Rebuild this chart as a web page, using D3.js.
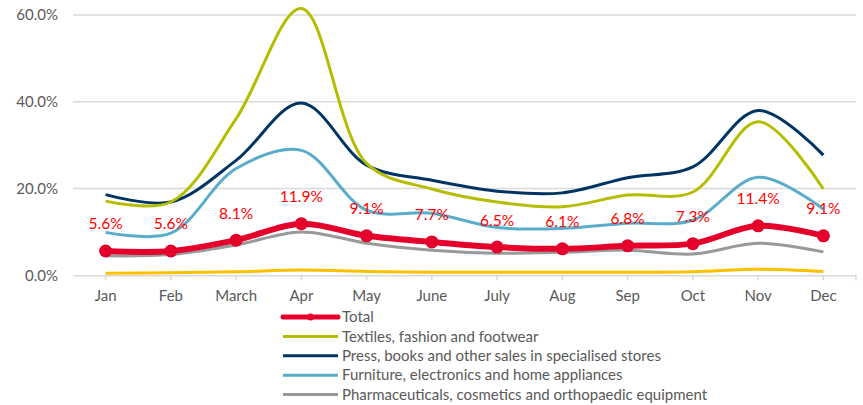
<!DOCTYPE html>
<html>
<head>
<meta charset="utf-8">
<script src="https://cdn.jsdelivr.net/npm/d3@7"></script>
<style>
  body { margin: 0; background: #fff; }
  text { font-family: Lato, "Open Sans", sans-serif; }
</style>
</head>
<body>
<div id="chart"></div>
<script>
// Chart data
var months = ["Jan", "Feb", "March", "Apr", "May", "June", "July", "Aug", "Sep", "Oct", "Nov", "Dec"];
var yTicks = [0, 20, 40, 60];

var total = [5.6, 5.6, 8.1, 11.9, 9.1, 7.7, 6.5, 6.1, 6.8, 7.3, 11.4, 9.1];
var textiles = [17.1, 16.9, 36.1, 61.5, 25.8, 19.9, 16.9, 15.8, 18.5, 19.2, 35.4, 19.9];
var press = [18.6, 16.9, 26.5, 39.7, 25.4, 21.9, 19.4, 19.0, 22.5, 25.0, 38.0, 27.7];
var furniture = [9.9, 9.7, 24.6, 28.8, 15.0, 14.3, 11.0, 10.8, 12.0, 12.7, 22.6, 15.2];
var pharma = [4.5, 4.8, 7.0, 10.0, 7.4, 5.8, 5.1, 5.3, 5.8, 4.9, 7.4, 5.4];
var food = [0.5, 0.6, 0.8, 1.2, 0.9, 0.7, 0.7, 0.7, 0.7, 0.8, 1.4, 0.9];

var legendNames = [
  "Total",
  "Textiles, fashion and footwear",
  "Press, books and other sales in specialised stores",
  "Furniture, electronics and home appliances",
  "Pharmaceuticals, cosmetics and orthopaedic equipment"
];

// SVG area
var svgWidth = 863;
var svgHeight = 405;
var margin = { top: 15, right: 7, bottom: 130, left: 73 };
var chartWidth = svgWidth - margin.left - margin.right;
var chartHeight = 275.3 - margin.top;

var svg = d3.select("#chart")
  .append("svg")
  .attr("width", svgWidth)
  .attr("height", svgHeight);

var chartGroup = svg.append("g")
  .attr("transform", `translate(${margin.left}, ${margin.top})`);

var xScale = d3.scaleBand().domain(months).range([0, chartWidth]);
var yScale = d3.scaleLinear().domain([0, 60]).range([chartHeight, 0]);
var xc = d => xScale(d) + xScale.bandwidth() / 2;

// gridlines
chartGroup.selectAll(".grid").data(yTicks.slice(1)).enter().append("line")
  .attr("x1", 0).attr("x2", chartWidth)
  .attr("y1", d => yScale(d)).attr("y2", d => yScale(d))
  .attr("stroke", "#d9d9d9").attr("stroke-width", 1.5);

// y axis labels
var leftAxis = d3.axisLeft(yScale).tickValues(yTicks).tickSize(0).tickPadding(15)
  .tickFormat(d => d.toFixed(1) + "%");
var yAxis = chartGroup.append("g").call(leftAxis);
yAxis.select(".domain").remove();
yAxis.selectAll("text").attr("fill", "#595959").style("font-size", "15px");

// x axis
var bottomAxis = d3.axisBottom(xScale).tickSize(5).tickSizeOuter(0).tickPadding(10);
var xAxis = chartGroup.append("g").attr("transform", `translate(0, ${chartHeight})`).call(bottomAxis);
xAxis.select(".domain").attr("stroke", "#d9d9d9").attr("stroke-width", 1.5);
xAxis.selectAll(".tick line").attr("stroke", "#d9d9d9").attr("stroke-width", 1.5);
xAxis.selectAll("text").attr("fill", "#595959").style("font-size", "15px");
xAxis.append("line").attr("x1", chartWidth).attr("x2", chartWidth).attr("y1", 0).attr("y2", 5)
  .attr("stroke", "#d9d9d9").attr("stroke-width", 1.5);

var line = d3.line()
  .x((d, i) => xc(months[i]))
  .y(d => yScale(d))
  .curve(d3.curveCatmullRom.alpha(0.5));

var series = [
  { values: food, color: "#ffc000", width: 3 },
  { values: pharma, color: "#999999", width: 3 },
  { values: furniture, color: "#5aaccb", width: 3 },
  { values: press, color: "#003462", width: 3 },
  { values: textiles, color: "#b5bd00", width: 3 }
];

series.forEach(function(s) {
  chartGroup.append("path").datum(s.values)
    .attr("d", line)
    .attr("fill", "none")
    .attr("stroke", s.color)
    .attr("stroke-width", s.width);
});

// Total line
var totalColor = "#e4002b";
chartGroup.append("path").datum(total)
  .attr("d", line)
  .attr("fill", "none")
  .attr("stroke", totalColor)
  .attr("stroke-width", 6);

chartGroup.selectAll(".dot").data(total).enter().append("circle")
  .attr("cx", (d, i) => xc(months[i]))
  .attr("cy", d => yScale(d))
  .attr("r", 6.5)
  .attr("fill", totalColor);

chartGroup.selectAll(".lbl").data(total).enter().append("text")
  .attr("x", (d, i) => xc(months[i]))
  .attr("y", d => yScale(d) - 27)
  .attr("dy", "0.35em")
  .attr("text-anchor", "middle")
  .attr("fill", "#ff0000")
  .style("font-size", "15.5px")
  .text(d => d.toFixed(1) + "%");

// Legend
var legendColors = [totalColor, "#b5bd00", "#003462", "#5aaccb", "#999999"];
var legend = svg.append("g").attr("transform", "translate(283, 317)");
legendNames.forEach(function(name, i) {
  var g = legend.append("g").attr("transform", `translate(0, ${i * 19.4})`);
  g.append("line").attr("x1", 0).attr("x2", 55).attr("y1", 0).attr("y2", 0)
    .attr("stroke", legendColors[i]).attr("stroke-width", i === 0 ? 5 : 3)
    .attr("stroke-linecap", i === 0 ? "round" : "butt");
  if (i === 0) g.append("circle").attr("cx", 27.5).attr("cy", 0).attr("r", 3.5).attr("fill", totalColor);
  g.append("text").attr("x", 59).attr("y", 0).attr("dy", "0.35em")
    .attr("fill", "#595959").style("font-size", "15px").text(name);
});
</script>
</body>
</html>
